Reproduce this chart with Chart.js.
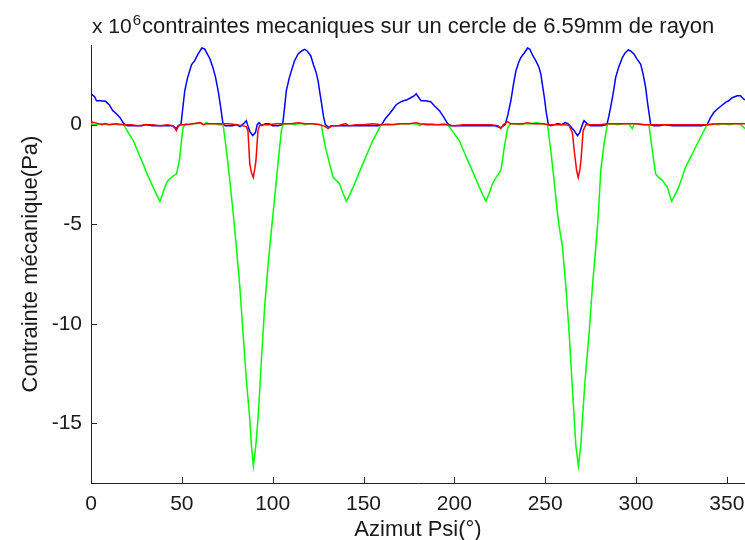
<!DOCTYPE html>
<html>
<head>
<meta charset="utf-8">
<script src="https://cdn.jsdelivr.net/npm/chart.js@4.4.1/dist/chart.umd.min.js"></script>
<style>
html,body{margin:0;padding:0;background:#fff;}
#wrap{width:745px;height:540px;position:relative;}
</style>
</head>
<body>
<div id="wrap"><canvas id="c" width="745" height="540"></canvas></div>
<script>
// Text
const titleText = "contraintes mecaniques sur un cercle de 6.59mm de rayon";
const exponentText = "x 10";
const exponentSup = "6";
const xTitle = "Azimut Psi(°)";
const yTitle = "Contrainte mécanique(Pa)";
const xTicks = [0, 50, 100, 150, 200, 250, 300, 350];
const yTicks = [-15, -10, -5, 0];

// Blue series (azimuth in degrees, value in 1e6 Pa)
const bluePsi = [0,2,3,5,8,10,12,14,16,18,20,24,28,30,34,38,42,45,47,48,49.5,50.5,51.6,53,55.3,57,59,61,62.5,64,65.5,67,68.5,70,71.5,72.7,74,76,78,80,82,84,85.5,86.5,87.5,89,90.5,91.5,92.5,94,96,98,100,103,105.5,106.5,107.5,109,110.3,112,114,116,117.6,119,121,122.5,124,125,126,127,128,129,131,133,136,140,143,147,150,154,158,160,162,164.3,166,168,170,172,174,176,178,179,180.5,181.7,184,187,189,191.8,194,196.3,198,202,206,210,214,218,222,225.5,228,229.5,231.1,232.5,233.9,235.3,236.6,238.5,240.3,241.5,243,244.9,246.5,247.6,248.5,249.5,250.6,251.8,253,255,257,259,261,262.5,264,266,267.8,269,270.5,271.4,273,275,278,281,284,285,286.1,287.5,288.8,290.5,292.5,294,295.8,297,298.9,300.5,302.6,304,305.3,306.5,308.1,310,313,316,320,324,328,332,336,339.2,341,342.9,345,347,349.3,351,353,355.7,357.5,359.3,360];
const blueVal = [1.55,1.4,1.2,1.2,1.17,1.0,0.7,0.55,0.35,0.05,-0.05,-0.05,-0.05,0.0,-0.05,-0.05,-0.05,-0.05,-0.2,-0.05,0.0,0.8,1.7,2.3,3.0,3.2,3.55,3.85,3.8,3.55,3.3,2.9,2.4,1.7,0.8,0.0,-0.05,-0.05,-0.05,0.0,-0.1,0.05,0.2,-0.1,-0.35,-0.55,-0.4,0.0,0.1,-0.05,0.05,0.05,-0.05,-0.05,0.0,0.8,1.7,2.3,2.7,3.2,3.55,3.7,3.78,3.7,3.45,3.0,2.6,2.2,1.6,1.0,0.4,0.0,-0.15,-0.05,-0.05,-0.05,-0.05,-0.05,-0.05,-0.05,-0.05,0.0,0.3,0.55,0.75,1.0,1.12,1.2,1.25,1.35,1.45,1.55,1.35,1.2,1.2,1.15,0.95,0.7,0.4,0.05,-0.05,-0.05,-0.05,-0.05,-0.05,-0.05,-0.05,-0.15,0.0,0.5,1.2,2.0,2.7,3.1,3.37,3.6,3.85,3.8,3.5,3.2,2.9,2.55,2.0,1.4,0.6,0.0,-0.05,0.0,0.05,0.0,0.1,0.05,-0.1,-0.3,-0.55,-0.4,0.0,0.2,0.05,-0.05,-0.05,-0.05,0.0,0.4,0.9,1.6,2.37,2.9,3.37,3.6,3.75,3.7,3.55,3.3,3.03,2.5,1.87,1.0,0.0,-0.05,-0.05,0.0,-0.05,-0.05,-0.05,-0.05,-0.05,0.0,0.35,0.62,0.8,0.95,1.12,1.2,1.35,1.45,1.45,1.28,1.25];

// Green series
const greenPsi = [0,3,6,9,12,15,18,20.5,23.3,26,28.7,31,33.3,35.5,37.9,39,40.7,42,43.4,45,47.1,48.2,48.9,49.8,50.7,52,54,56,58,60,62,63.5,65,68,70,72.7,74,75.4,76.4,78.2,80,81.9,83.7,85.5,87.4,88.3,89.4,90.7,91.9,92.9,93.8,94.7,95.6,97.4,99.3,100.5,101.5,102.9,104.8,105.7,108,110,112,114,116,118,120,123,126.7,128.5,130.4,133.2,135,136.8,138.5,140.5,142,145.1,149.6,155.1,159.7,163,167,171,175,179,181,183,187,191,194,196.3,199.5,202.7,205.5,208.2,211,213.7,215.5,217.4,219,221,223,225.6,226.5,227.5,229.3,230.5,233,236,239,242,245,248,251.3,253.1,254.9,256.4,257.5,259.5,261.4,263.2,264.7,266,266.9,268.3,269.6,270.5,272,274.2,276,277.9,279.2,280.6,282.4,284.2,287,290,293,296,298,299,302,305,307.1,309,310.8,312.5,314.5,317.2,319.6,321,323.6,327.3,331.9,336.4,339.2,342,345,348,351,354,357,360];
const greenVal = [0.05,0.0,0.05,0.0,0.05,0.0,0.0,-0.4,-0.8,-1.4,-1.97,-2.5,-2.97,-3.4,-3.85,-3.6,-3.13,-2.85,-2.72,-2.6,-2.47,-2.0,-1.63,-0.8,-0.13,0.05,0.0,0.05,0.05,0.1,0.0,0.1,0.05,0.05,0.0,0.0,-0.9,-1.97,-2.8,-4.4,-6.13,-8.13,-10.47,-12.8,-14.8,-16.13,-17.15,-16.13,-14.8,-13.3,-11.8,-10.47,-9.13,-7.13,-5.3,-4.2,-3.3,-1.97,-0.3,0.0,0.05,0.05,0.0,0.05,0.05,0.0,0.05,0.05,0.0,-0.9,-1.63,-2.63,-2.8,-2.97,-3.4,-3.85,-3.6,-2.97,-1.97,-0.8,0.0,0.05,0.0,0.05,0.05,0.05,-0.05,0.05,0.05,0.0,0.05,0.0,-0.4,-0.8,-1.4,-1.97,-2.55,-3.13,-3.5,-3.85,-3.5,-2.97,-2.65,-2.3,-1.8,-1.13,-0.2,0.0,0.05,0.0,0.05,0.05,0.1,0.05,0.0,-1.3,-2.8,-4.13,-5.0,-6.13,-8.13,-10.47,-12.8,-14.8,-16.13,-17.15,-16.13,-14.8,-12.8,-10.47,-8.13,-6.13,-4.6,-2.3,-0.97,0.0,0.05,0.0,0.05,0.05,-0.2,0.05,0.05,0.0,0.0,-1.3,-2.47,-2.65,-2.8,-3.13,-3.85,-3.6,-3.13,-2.13,-1.3,-0.47,0.0,0.05,0.0,0.05,0.0,0.05,0.05,-0.2];

// Red series
const redPsi = [0,2,4,6,8,10,14,18,22,26,30,34,38,42,45,46,47,48,49,52,56,60,62,64,67,70,73,76,80,83,85.5,86.4,87.4,88.3,89.3,90.2,90.8,91.9,92.8,95,98,102,106,110,114,118,122,126,129,130.5,132,136,140,142,146,150,155,160,165,170,175,179,181,185,190,195,200,205,210,215,220,224,225.6,227,229.3,231,234,238,240,243,246,249,252,255,258,261,263.2,265,266,267.3,268.2,269.2,269.8,270.9,272.4,276,280,284,288,292,296,300,304,308,312,316,320,325,330,335,340,345,350,355,360];
const redVal = [0.15,0.1,0.05,0.0,0.05,0.0,0.05,0.0,0.0,-0.05,0.0,0.0,-0.05,0.0,-0.05,-0.15,-0.3,-0.1,0.0,0.0,0.05,0.1,0.0,0.05,0.05,0.05,0.05,0.05,0.0,-0.05,-0.1,-0.3,-1.97,-2.4,-2.65,-2.2,-1.8,-0.3,-0.05,0.0,0.0,0.05,0.05,0.05,0.1,0.05,0.05,0.0,-0.1,-0.2,-0.05,-0.05,0.05,-0.05,0.0,0.0,0.05,0.0,0.0,0.05,0.05,0.1,0.05,0.0,0.0,0.0,-0.05,0.0,0.0,0.0,0.0,-0.05,-0.2,0.0,0.15,0.05,0.05,0.05,0.1,0.05,0.05,0.05,0.0,0.0,0.0,0.0,-0.05,-0.4,-1.3,-2.3,-2.65,-2.2,-1.7,-0.3,0.0,0.0,0.0,0.05,0.05,0.05,0.05,0.05,0.0,0.0,0.0,0.0,0.0,0.0,0.0,0.0,0.0,0.05,0.05,0.05,0.05];

const toPts = (xs, ys) => xs.map((x, i) => ({x: x, y: ys[i]}));

const FONT = "'Liberation Sans', Arial, Helvetica, sans-serif";
const TXT = '#1a1a1a';

const decorPlugin = {
  id: 'decor',
  afterDraw(chart) {
    const ctx = chart.ctx;
    const xs = chart.scales.x, ys = chart.scales.y;
    const a = chart.chartArea;
    ctx.save();
    // inward tick marks
    ctx.strokeStyle = '#222';
    ctx.lineWidth = 1;
    ctx.beginPath();
    xTicks.forEach(v => {
      const px = Math.round(xs.getPixelForValue(v)) + 0.5;
      ctx.moveTo(px, a.bottom);
      ctx.lineTo(px, a.bottom - 6);
    });
    yTicks.forEach(v => {
      const py = Math.round(ys.getPixelForValue(v)) + 0.5;
      ctx.moveTo(a.left, py);
      ctx.lineTo(a.left + 6, py);
    });
    ctx.stroke();
    // exponent label and title
    ctx.fillStyle = TXT;
    ctx.textBaseline = 'alphabetic';
    ctx.textAlign = 'left';
    ctx.font = "21px " + FONT;
    ctx.fillText(exponentText, a.left + 1, 33);
    const w = ctx.measureText(exponentText).width;
    ctx.font = "15px " + FONT;
    ctx.fillText(exponentSup, a.left + 1 + w + 1, 25);
    const w2 = ctx.measureText(exponentSup).width;
    ctx.font = "22px " + FONT;
    ctx.fillText(titleText, a.left + 1 + w + 1 + w2 + 1, 33);
    ctx.restore();
  }
};

new Chart(document.getElementById('c'), {
  type: 'line',
  data: {
    datasets: [
      {label: 'rouge', data: toPts(redPsi, redVal), borderColor: '#ff0000'},
      {label: 'vert', data: toPts(greenPsi, greenVal), borderColor: '#00ff00'},
      {label: 'bleu', data: toPts(bluePsi, blueVal), borderColor: '#0000ff'}
    ]
  },
  options: {
    responsive: false,
    animation: false,
    parsing: false,
    layout: {padding: {top: 45, right: 0, left: 0, bottom: 0}},
    elements: {
      line: {borderWidth: 1.5, tension: 0, fill: false},
      point: {radius: 0, hoverRadius: 0}
    },
    plugins: {legend: {display: false}, tooltip: {enabled: false}, title: {display: false}},
    scales: {
      x: {
        type: 'linear', min: 0, max: 360,
        afterFit(s) { s.height = 57; s.paddingLeft = 0; s.paddingRight = 0; },
        afterBuildTicks(s) { s.ticks = xTicks.map(v => ({value: v})); },
        ticks: {color: TXT, font: {family: FONT, size: 21}, padding: 9, maxRotation: 0, autoSkip: false, includeBounds: false},
        grid: {display: false, drawTicks: false},
        border: {display: true, color: '#222', width: 1},
        title: {display: true, text: xTitle, color: TXT, font: {family: FONT, size: 22}, padding: {top: 0, bottom: -3}}
      },
      y: {
        type: 'linear', min: -18, max: 4,
        afterFit(s) { s.width = 91; s.paddingTop = 0; s.paddingBottom = 0; },
        afterBuildTicks(s) { s.ticks = yTicks.map(v => ({value: v})); },
        ticks: {color: TXT, font: {family: FONT, size: 21}, padding: 9, autoSkip: false, includeBounds: false},
        grid: {display: false, drawTicks: false},
        border: {display: true, color: '#222', width: 1},
        title: {display: true, text: yTitle, color: TXT, font: {family: FONT, size: 22}, padding: {top: 18, bottom: 0}}
      }
    }
  },
  plugins: [decorPlugin]
});
</script>
</body>
</html>
